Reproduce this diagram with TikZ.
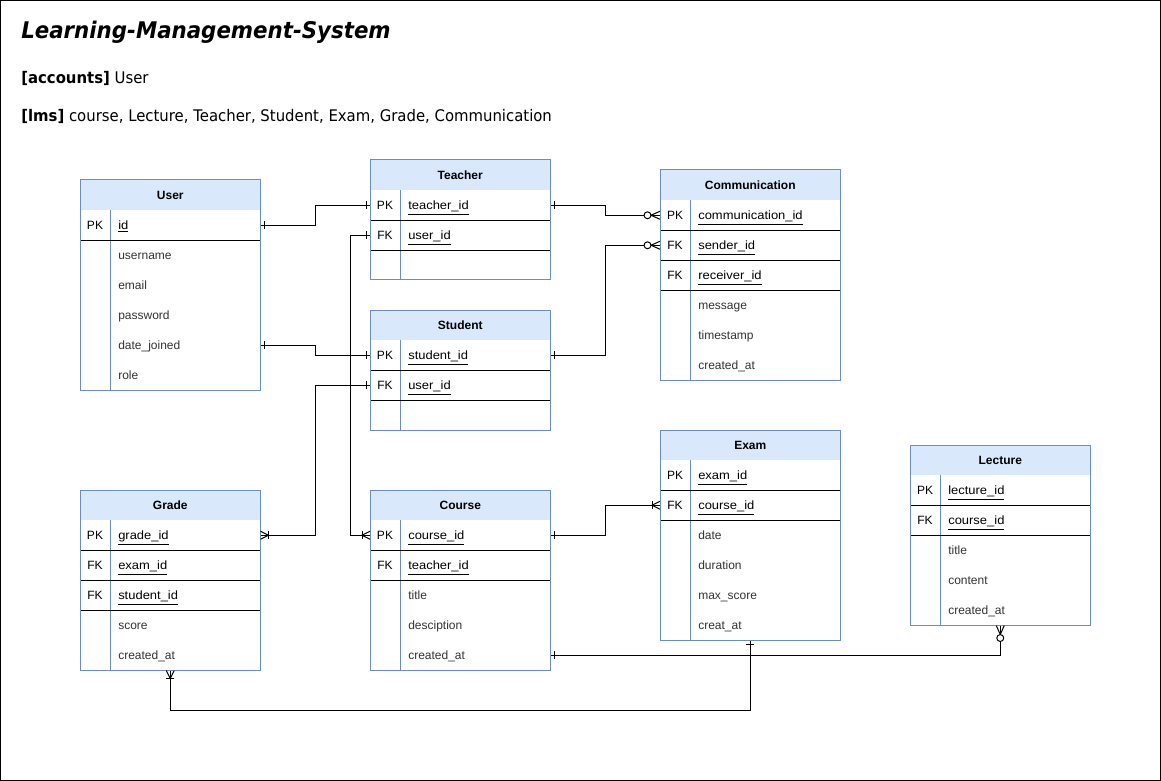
\documentclass[tikz,border=0pt]{standalone}
\usepackage{fontspec}
\usepackage{graphicx}
\setmainfont{Liberation Sans}
\newfontfamily\dvs{DejaVu Sans}
\usetikzlibrary{calc}
\definecolor{tblblue}{HTML}{6C8EBF}
\definecolor{hdrblue}{HTML}{DAE8FC}
\definecolor{attrgray}{HTML}{333333}
\tikzset{
 hdr/.style={rectangle, fill=hdrblue, minimum width=135pt, minimum height=22.5pt, inner sep=0pt, anchor=north west, font=\fontsize{9}{10}\selectfont\bfseries},
 rowbox/.style={rectangle, fill=white, minimum width=135pt, minimum height=22.5pt, inner sep=0pt, anchor=north west},
 keytxt/.style={inner sep=0pt, anchor=base, font=\fontsize{9}{10}\selectfont},
 fldtxt/.style={inner sep=0pt, anchor=base west, font=\fontsize{9}{10}\selectfont},
 attrtxt/.style={inner sep=0pt, anchor=base west, font=\fontsize{9}{10}\selectfont, text=attrgray},
 conn/.style={draw=black, line width=0.75pt},
 tframe/.style={draw=tblblue, line width=0.75pt},
 tsep/.style={draw=black, line width=0.75pt},
}
\newcommand\erhead[4]{\node[hdr] (#1) at (#2,#3) {#4};}
\newcommand\erkey[5]{%
 \node[rowbox] (#1) at (#2,#3) {};
 \node[keytxt] at ($(#1.west)+(15,4.3)$) {#4};
 \node[fldtxt] at ($(#1.west)+(38,4.3)$) {\scalebox{1.08}[1]{\underline{#5}}};}
\newcommand\erattr[4]{%
 \node[rowbox] (#1) at (#2,#3) {};
 \node[attrtxt] at ($(#1.west)+(38,4.3)$) {#4};}
\newcommand\erframe[4]{%
 \draw[tframe] (#1+30,#2+30) -- (#1+30,#3);
 \foreach \n in {#4} {\draw[tsep] (\n.south west) -- (\n.south east);}
 \draw[tframe] (#1,#2) rectangle (#1+180,#3);}
% markers
\newcommand\tickv[2]{\draw[conn] ($(#1)+(#2,-4)$) -- ($(#1)+(#2,4)$);}
\newcommand\tickh[2]{\draw[conn] ($(#1)+(-4,#2)$) -- ($(#1)+(4,#2)$);}
\newcommand\crowL[1]{\draw[conn] ($(#1)+(0,-4)$) -- ($(#1)+(-8,0)$) -- ($(#1)+(0,4)$); \tickv{#1}{-8}}
\newcommand\crowR[1]{\draw[conn] ($(#1)+(0,-4)$) -- ($(#1)+(8,0)$) -- ($(#1)+(0,4)$); \tickv{#1}{8}}
\newcommand\crowU[1]{\draw[conn] ($(#1)+(-4,0)$) -- ($(#1)+(0,8)$) -- ($(#1)+(4,0)$); \tickh{#1}{8}}
\newcommand\zmL[1]{\draw[conn] ($(#1)+(0,-4)$) -- ($(#1)+(-9,0)$) -- ($(#1)+(0,4)$);
 \draw[conn, fill=white] ($(#1)+(-12.5,0)$) circle (2.6pt);}
\newcommand\zmU[1]{\draw[conn] ($(#1)+(-4,0)$) -- ($(#1)+(0,9)$) -- ($(#1)+(4,0)$);
 \draw[conn, fill=white] ($(#1)+(0,12.5)$) circle (2.6pt);}

\begin{document}
\begin{tikzpicture}[x=0.75pt, y=-0.75pt]
\useasboundingbox (0,0) rectangle (1161,781);
\fill[white] (0,0) rectangle (1161,781);
\draw[line width=0.75pt] (0.5,0.5) rectangle (1160.5,780.5);

\node[anchor=base west, inner sep=0pt] (title) at (21,39) {\scalebox{0.93}[1]{\dvs\fontsize{17.2}{20}\selectfont\bfseries\itshape Learning-Management-System}};
\node[anchor=base west, inner sep=0pt] (accounts) at (21,84) {\scalebox{0.93}[1]{\dvs\fontsize{12}{14}\selectfont\textbf{[accounts]} User}};
\node[anchor=base west, inner sep=0pt] (lms) at (21,122) {\scalebox{0.93}[1]{\dvs\fontsize{12}{14}\selectfont\textbf{[lms]} course, Lecture, Teacher, Student, Exam, Grade, Communication}};

% User
\erhead{user}{80}{180}{User}
\erkey{user-id}{80}{210}{PK}{id}
\erattr{user-username}{80}{240}{username}
\erattr{user-email}{80}{270}{email}
\erattr{user-password}{80}{300}{password}
\erattr{user-datejoined}{80}{330}{date\_joined}
\erattr{user-role}{80}{360}{role}
\erframe{80}{180}{390}{user-id}

% Teacher
\erhead{teacher}{370}{160}{Teacher}
\erkey{teacher-pk}{370}{190}{PK}{teacher\_id}
\erkey{teacher-fk}{370}{220}{FK}{user\_id}
\erattr{teacher-empty}{370}{250}{}
\erframe{370}{160}{280}{teacher-pk,teacher-fk}

% Student
\erhead{student}{370}{310}{Student}
\erkey{student-pk}{370}{340}{PK}{student\_id}
\erkey{student-fk}{370}{370}{FK}{user\_id}
\erattr{student-empty}{370}{400}{}
\erframe{370}{310}{430}{student-pk,student-fk}

% Communication
\erhead{comm}{660}{170}{Communication}
\erkey{comm-pk}{660}{200}{PK}{communication\_id}
\erkey{comm-sender}{660}{230}{FK}{sender\_id}
\erkey{comm-receiver}{660}{260}{FK}{receiver\_id}
\erattr{comm-message}{660}{290}{message}
\erattr{comm-timestamp}{660}{320}{timestamp}
\erattr{comm-created}{660}{350}{created\_at}
\erframe{660}{170}{380}{comm-pk,comm-sender,comm-receiver}

% Grade
\erhead{grade}{80}{490}{Grade}
\erkey{grade-pk}{80}{520}{PK}{grade\_id}
\erkey{grade-exam}{80}{550}{FK}{exam\_id}
\erkey{grade-student}{80}{580}{FK}{student\_id}
\erattr{grade-score}{80}{610}{score}
\erattr{grade-created}{80}{640}{created\_at}
\erframe{80}{490}{670}{grade-pk,grade-exam,grade-student}

% Course
\erhead{course}{370}{490}{Course}
\erkey{course-pk}{370}{520}{PK}{course\_id}
\erkey{course-teacher}{370}{550}{FK}{teacher\_id}
\erattr{course-title}{370}{580}{title}
\erattr{course-desc}{370}{610}{desciption}
\erattr{course-created}{370}{640}{created\_at}
\erframe{370}{490}{670}{course-pk,course-teacher}

% Exam
\erhead{exam}{660}{430}{Exam}
\erkey{exam-pk}{660}{460}{PK}{exam\_id}
\erkey{exam-fk}{660}{490}{FK}{course\_id}
\erattr{exam-date}{660}{520}{date}
\erattr{exam-duration}{660}{550}{duration}
\erattr{exam-max}{660}{580}{max\_score}
\erattr{exam-created}{660}{610}{creat\_at}
\erframe{660}{430}{640}{exam-pk,exam-fk}

% Lecture
\erhead{lecture}{910}{445}{Lecture}
\erkey{lecture-pk}{910}{475}{PK}{lecture\_id}
\erkey{lecture-fk}{910}{505}{FK}{course\_id}
\erattr{lecture-title}{910}{535}{title}
\erattr{lecture-content}{910}{565}{content}
\erattr{lecture-created}{910}{595}{created\_at}
\erframe{910}{445}{625}{lecture-pk,lecture-fk}

% connectors
\draw[conn] (user-id.east) -- ++(55,0) |- (teacher-pk.west);
\tickv{user-id.east}{4} \tickv{teacher-pk.west}{-4}

\draw[conn] (user-datejoined.east) -- ++(55,0) |- (student-pk.west);
\tickv{user-datejoined.east}{4} \tickv{student-pk.west}{-4}

\draw[conn] (teacher-fk.west) -- ++(-20,0) |- (course-pk.west);
\tickv{teacher-fk.west}{-4} \crowL{course-pk.west}

\draw[conn] (student-fk.west) -- ++(-55,0) |- (grade-pk.east);
\tickv{student-fk.west}{-4} \crowR{grade-pk.east}

\draw[conn] (teacher-pk.east) -- ++(55,0) |- (comm-pk.west);
\tickv{teacher-pk.east}{4} \zmL{comm-pk.west}

\draw[conn] (student-pk.east) -- ++(55,0) |- (comm-sender.west);
\tickv{student-pk.east}{4} \zmL{comm-sender.west}

\draw[conn] (course-pk.east) -- ++(55,0) |- (exam-fk.west);
\tickv{course-pk.east}{4} \crowL{exam-fk.west}

\draw[conn] (course-created.east) -| (lecture-created.south);
\tickv{course-created.east}{4} \zmU{lecture-created.south}

\draw[conn] (exam-created.south) -- ++(0,70) -| (grade-created.south);
\tickh{exam-created.south}{4} \crowU{grade-created.south}
\end{tikzpicture}
\end{document}
